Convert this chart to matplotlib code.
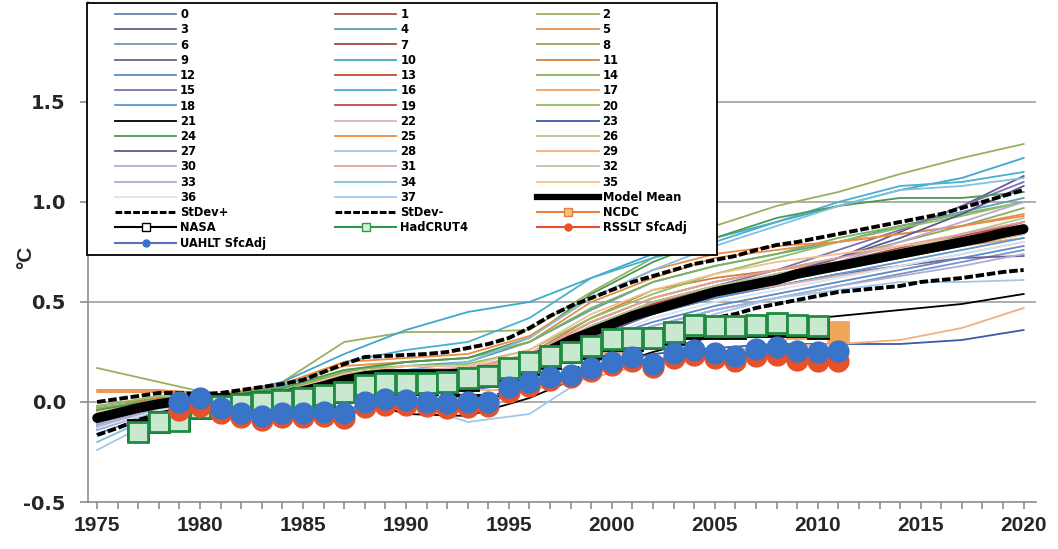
import matplotlib
matplotlib.use('Agg')
import matplotlib.pyplot as plt
from matplotlib.lines import Line2D
from matplotlib.patches import Rectangle

plt.rcParams['font.family'] = ['Liberation Sans', 'DejaVu Sans']

# ---- data ----
YEARS = list(range(1975, 2021))
MODEL_YEARS = [1975, 1978, 1981, 1984, 1987, 1990, 1993, 1996,
               1999, 2002, 2005, 2008, 2011, 2014, 2017, 2020]

MODELS = [
    [-0.10, -0.02, 0.02, 0.03, 0.10, 0.12, 0.13, 0.20, 0.36, 0.47, 0.55, 0.62, 0.70, 0.74, 0.80, 0.88],
    [-0.05, 0.00, 0.03, 0.05, 0.12, 0.16, 0.15, 0.22, 0.38, 0.50, 0.58, 0.63, 0.70, 0.77, 0.83, 0.90],
    [0.17, 0.10, 0.03, 0.10, 0.30, 0.35, 0.35, 0.36, 0.55, 0.72, 0.88, 0.98, 1.05, 1.14, 1.22, 1.29],
    [-0.12, -0.03, 0.01, 0.02, 0.08, 0.10, 0.12, 0.18, 0.34, 0.45, 0.54, 0.62, 0.72, 0.85, 0.98, 1.13],
    [-0.08, -0.01, 0.02, 0.04, 0.14, 0.18, 0.20, 0.30, 0.46, 0.60, 0.68, 0.74, 0.80, 0.88, 0.95, 1.02],
    [0.06, 0.06, 0.04, 0.08, 0.18, 0.20, 0.22, 0.30, 0.50, 0.62, 0.72, 0.76, 0.80, 0.84, 0.88, 0.94],
    [-0.14, -0.04, 0.01, 0.02, 0.06, 0.08, 0.08, 0.14, 0.28, 0.38, 0.46, 0.52, 0.58, 0.64, 0.70, 0.76],
    [-0.06, -0.01, 0.02, 0.04, 0.10, 0.14, 0.14, 0.22, 0.38, 0.48, 0.57, 0.64, 0.69, 0.74, 0.80, 0.86],
    [-0.04, 0.02, 0.03, 0.06, 0.14, 0.16, 0.17, 0.24, 0.40, 0.52, 0.60, 0.66, 0.72, 0.80, 0.88, 0.97],
    [-0.09, -0.02, 0.01, 0.02, 0.09, 0.11, 0.11, 0.17, 0.32, 0.44, 0.52, 0.58, 0.64, 0.68, 0.72, 0.73],
    [-0.10, 0.00, 0.03, 0.10, 0.24, 0.36, 0.45, 0.50, 0.62, 0.74, 0.82, 0.90, 0.98, 1.06, 1.12, 1.22],
    [-0.02, 0.02, 0.03, 0.05, 0.13, 0.15, 0.16, 0.24, 0.42, 0.56, 0.62, 0.66, 0.70, 0.75, 0.80, 0.85],
    [-0.16, -0.05, 0.00, 0.01, 0.07, 0.09, 0.09, 0.16, 0.30, 0.40, 0.48, 0.54, 0.60, 0.66, 0.72, 0.78],
    [-0.07, -0.01, 0.02, 0.03, 0.10, 0.13, 0.13, 0.21, 0.37, 0.48, 0.56, 0.63, 0.69, 0.75, 0.82, 0.90],
    [-0.03, 0.01, 0.03, 0.06, 0.15, 0.20, 0.22, 0.30, 0.47, 0.60, 0.68, 0.74, 0.82, 0.88, 0.94, 1.00],
    [-0.11, -0.03, 0.01, 0.03, 0.09, 0.12, 0.13, 0.20, 0.36, 0.48, 0.58, 0.66, 0.76, 0.86, 0.98, 1.10],
    [-0.05, 0.01, 0.04, 0.08, 0.20, 0.26, 0.30, 0.42, 0.62, 0.72, 0.80, 0.90, 1.00, 1.08, 1.10, 1.15],
    [-0.06, -0.01, 0.02, 0.04, 0.12, 0.15, 0.15, 0.23, 0.40, 0.52, 0.60, 0.66, 0.70, 0.74, 0.78, 0.82],
    [-0.13, -0.04, 0.00, 0.02, 0.08, 0.10, 0.10, 0.18, 0.34, 0.44, 0.52, 0.58, 0.64, 0.70, 0.76, 0.82],
    [-0.08, -0.02, 0.02, 0.03, 0.10, 0.13, 0.14, 0.21, 0.38, 0.49, 0.57, 0.62, 0.67, 0.72, 0.78, 0.84],
    [-0.02, 0.03, 0.04, 0.07, 0.16, 0.18, 0.19, 0.26, 0.42, 0.54, 0.64, 0.72, 0.80, 0.87, 0.93, 1.00],
    [-0.10, -0.03, 0.01, 0.00, 0.03, -0.06, -0.07, 0.02, 0.15, 0.25, 0.33, 0.40, 0.43, 0.46, 0.49, 0.54],
    [-0.09, -0.02, 0.02, 0.03, 0.12, 0.16, 0.17, 0.24, 0.38, 0.48, 0.54, 0.58, 0.63, 0.68, 0.74, 0.80],
    [-0.12, -0.04, 0.00, 0.01, 0.06, 0.08, 0.06, 0.10, 0.18, 0.24, 0.27, 0.29, 0.29, 0.29, 0.31, 0.36],
    [-0.04, 0.01, 0.03, 0.07, 0.16, 0.20, 0.22, 0.32, 0.54, 0.70, 0.82, 0.92, 0.98, 1.02, 1.02, 1.05],
    [0.05, 0.05, 0.04, 0.09, 0.20, 0.22, 0.24, 0.33, 0.52, 0.66, 0.74, 0.78, 0.80, 0.84, 0.88, 0.93],
    [-0.07, -0.01, 0.02, 0.04, 0.11, 0.14, 0.15, 0.22, 0.38, 0.50, 0.58, 0.64, 0.70, 0.76, 0.84, 0.92],
    [-0.10, -0.02, 0.01, 0.02, 0.08, 0.11, 0.12, 0.19, 0.35, 0.46, 0.55, 0.63, 0.72, 0.82, 0.94, 1.08],
    [-0.12, -0.03, 0.01, 0.03, 0.09, 0.12, 0.12, 0.20, 0.36, 0.47, 0.55, 0.62, 0.68, 0.74, 0.80, 0.87],
    [-0.08, -0.02, 0.01, 0.02, 0.06, 0.08, 0.06, 0.06, 0.12, 0.20, 0.25, 0.28, 0.29, 0.31, 0.37, 0.47],
    [-0.14, -0.04, 0.00, 0.01, 0.06, 0.07, 0.06, 0.12, 0.28, 0.38, 0.46, 0.52, 0.58, 0.63, 0.68, 0.74],
    [-0.06, -0.01, 0.02, 0.04, 0.12, 0.15, 0.16, 0.24, 0.40, 0.52, 0.60, 0.66, 0.72, 0.78, 0.84, 0.90],
    [-0.09, -0.02, 0.01, 0.03, 0.09, 0.12, 0.13, 0.20, 0.36, 0.46, 0.54, 0.60, 0.66, 0.72, 0.78, 0.84],
    [-0.11, -0.03, 0.01, 0.02, 0.08, 0.10, 0.11, 0.18, 0.34, 0.46, 0.55, 0.62, 0.70, 0.80, 0.90, 1.00],
    [-0.20, -0.06, 0.00, 0.02, 0.10, 0.16, 0.20, 0.32, 0.52, 0.66, 0.78, 0.88, 0.98, 1.06, 1.08, 1.12],
    [-0.05, 0.00, 0.02, 0.05, 0.14, 0.18, 0.18, 0.26, 0.44, 0.56, 0.64, 0.70, 0.74, 0.78, 0.82, 0.88],
    [-0.13, -0.04, 0.00, 0.01, 0.05, 0.07, 0.08, 0.14, 0.30, 0.42, 0.50, 0.56, 0.62, 0.68, 0.74, 0.80],
    [-0.24, -0.08, -0.01, 0.01, 0.04, 0.00, -0.10, -0.06, 0.14, 0.30, 0.44, 0.52, 0.56, 0.60, 0.60, 0.61],
]

MODEL_COLORS = [
    '#6a7fb0', '#b0504a', '#9ab060', '#6a5a90', '#5aa0b8', '#e0904a',
    '#8090c0', '#a04840', '#90a860', '#705c98', '#40a8c8', '#d08040',
    '#5a8ac8', '#c84838', '#80b060', '#8070b0', '#48b0d0', '#f0a060',
    '#5a98d0', '#c05040', '#90c060', '#000000', '#e0b0b0', '#3a5aa8',
    '#4a9a50', '#f08a40', '#b0c890', '#5a5a98', '#a0c8d8', '#f0b080',
    '#a8b0d8', '#e0a0a0', '#b8c8a0', '#b8a8d0', '#80c0e0', '#f0c090',
    '#dde2ea', '#a0c8e8',
]

MODEL_MEAN = [-0.08, -0.055, -0.03, -0.01, 0.005, 0.015, 0.02, 0.02, 0.025, 0.035,
              0.055, 0.08, 0.11, 0.13, 0.14, 0.14, 0.14, 0.14, 0.145, 0.15,
              0.17, 0.21, 0.26, 0.31, 0.35, 0.39, 0.43, 0.46, 0.49, 0.52,
              0.55, 0.57, 0.59, 0.61, 0.64, 0.66, 0.68, 0.70, 0.72, 0.74,
              0.76, 0.78, 0.80, 0.82, 0.845, 0.865]
STDEV_PLUS = [0.0, 0.015, 0.03, 0.045, 0.045, 0.04, 0.045, 0.06, 0.075, 0.09,
              0.11, 0.15, 0.19, 0.225, 0.23, 0.235, 0.24, 0.25, 0.27, 0.29,
              0.32, 0.37, 0.43, 0.48, 0.52, 0.56, 0.60, 0.63, 0.66, 0.69,
              0.71, 0.73, 0.76, 0.785, 0.80, 0.82, 0.84, 0.86, 0.88, 0.90,
              0.92, 0.94, 0.97, 1.00, 1.03, 1.06]
STDEV_MINUS = [-0.165, -0.13, -0.09, -0.06, -0.035, -0.02, -0.015, -0.02, -0.03, -0.02,
               0.0, 0.02, 0.04, 0.05, 0.05, 0.045, 0.04, 0.035, 0.03, 0.03,
               0.04, 0.07, 0.11, 0.15, 0.20, 0.24, 0.28, 0.31, 0.35, 0.39,
               0.42, 0.44, 0.47, 0.49, 0.51, 0.53, 0.55, 0.56, 0.57, 0.58,
               0.60, 0.61, 0.62, 0.635, 0.65, 0.66]

SURF_YEARS = list(range(1977, 2011))
HADCRUT4 = [-0.15, -0.10, -0.095, -0.03, -0.02, -0.01, 0.0, 0.01, 0.02, 0.035,
            0.05, 0.085, 0.093, 0.095, 0.095, 0.10, 0.12, 0.13, 0.17, 0.20,
            0.23, 0.25, 0.28, 0.315, 0.32, 0.32, 0.35, 0.385, 0.38, 0.38,
            0.385, 0.395, 0.385, 0.38]
NASA = [-0.14, -0.10, -0.09, -0.03, -0.02, -0.01, 0.0, 0.01, 0.02, 0.03,
        0.05, 0.08, 0.09, 0.09, 0.09, 0.10, 0.11, 0.13, 0.16, 0.19,
        0.22, 0.25, 0.27, 0.31, 0.31, 0.32, 0.34, 0.37, 0.37, 0.37,
        0.38, 0.38, 0.38, 0.37]
NCDC_YEARS = list(range(1977, 2012))
NCDC = [-0.14, -0.10, -0.09, -0.03, -0.02, -0.01, 0.0, 0.01, 0.02, 0.03,
        0.05, 0.08, 0.09, 0.09, 0.09, 0.10, 0.11, 0.13, 0.16, 0.19,
        0.22, 0.25, 0.27, 0.30, 0.31, 0.32, 0.34, 0.37, 0.37, 0.37,
        0.38, 0.38, 0.37, 0.37, 0.35]

SAT_YEARS = list(range(1979, 2012))
UAH = [0.0, 0.02, -0.03, -0.055, -0.07, -0.055, -0.055, -0.05, -0.055, 0.0,
       0.015, 0.01, 0.0, -0.005, 0.0, 0.0, 0.077, 0.10, 0.127, 0.135,
       0.17, 0.20, 0.225, 0.19, 0.245, 0.26, 0.245, 0.23, 0.265, 0.275,
       0.255, 0.25, 0.255]
RSS = [-0.04, -0.02, -0.055, -0.075, -0.09, -0.075, -0.075, -0.07, -0.08, -0.025,
       -0.015, -0.015, -0.02, -0.03, -0.025, -0.02, 0.05, 0.08, 0.11, 0.125,
       0.155, 0.185, 0.205, 0.175, 0.22, 0.235, 0.22, 0.205, 0.23, 0.235,
       0.21, 0.205, 0.205]

Y_TICKS = [-0.5, 0.0, 0.5, 1.0, 1.5]
X_TICKS = list(range(1975, 2021, 5))

# ---- figure ----
fig = plt.figure(figsize=(10.58, 5.49), dpi=100)
ax = fig.add_axes([0.0832, 0.0856, 0.896, 0.9108])

handles = []
for vals, col in zip(MODELS, MODEL_COLORS):
    h, = ax.plot(MODEL_YEARS, vals, color=col, lw=1.3, zorder=2)
    handles.append(h)

dash = dict(color='black', lw=2.8, dashes=(2.2, 0.7), zorder=3)
ax.plot(YEARS, STDEV_PLUS, **dash)
ax.plot(YEARS, STDEV_MINUS, **dash)
ax.plot(YEARS, MODEL_MEAN, color='black', lw=7, solid_capstyle='round', zorder=4)

sq = dict(marker='s', ms=14, mew=2, lw=1.5, zorder=5)
ax.plot(NCDC_YEARS, NCDC, color='#e8803a', mfc='#f0a658', mec='#f0a658', **sq)
ax.plot(SURF_YEARS, NASA, color='black', mfc='white', mec='black', **sq)
ax.plot(SURF_YEARS, HADCRUT4, color='#2a9a4a', mfc='#c8e8d0', mec='#1f8a42', **sq)
circ = dict(marker='o', ms=15, lw=1.5, zorder=6)
ax.plot(SAT_YEARS, RSS, color='#e8502a', mfc='#e8502a', mec='#e8502a', **circ)
ax.plot(SAT_YEARS, UAH, color='#3a74c8', mfc='#3a74c8', mec='#3a74c8', **circ)

# axes styling (Excel look)
ax.set_xlim(1974.56, 2020.6)
ax.set_ylim(-0.5, 2.0)
for side in ['top', 'right']:
    ax.spines[side].set_visible(False)
for side in ['left', 'bottom']:
    ax.spines[side].set_color('#8c8c8c')
    ax.spines[side].set_linewidth(1.2)
ax.set_yticks(Y_TICKS)
ax.set_yticklabels([f'{v:.1f}' for v in Y_TICKS], family='DejaVu Sans',
                   fontweight='bold', fontsize=14, color='#262626')
ax.set_xticks(X_TICKS)
ax.set_xticklabels([str(v) for v in X_TICKS], fontweight='bold',
                   fontsize=15, color='#262626')
ax.set_xticks(YEARS, minor=True)
ax.tick_params(axis='y', length=6, width=1.2, color='#8c8c8c', pad=10)
ax.tick_params(axis='x', which='both', length=5, width=1.2, color='#8c8c8c', pad=5)
for v in Y_TICKS[1:]:
    ax.axhline(v, color='#a0a0a0', lw=1.2, zorder=1)
ax.set_ylabel('°C', fontsize=15, fontweight='bold', color='#262626')
ax.yaxis.set_label_coords(-0.056, 0.49)

# legend, filled row by row like Excel
leg_labels = [str(i) for i in range(len(MODELS))] + [
    'Model Mean', 'StDev+', 'StDev-', 'NCDC', 'NASA', 'HadCRUT4',
    'RSSLT SfcAdj', 'UAHLT SfcAdj']
leg_handles = handles + [
    Line2D([], [], color='black', lw=4.5),
    Line2D([], [], color='black', lw=2.2, dashes=(2.2, 0.7)),
    Line2D([], [], color='black', lw=2.2, dashes=(2.2, 0.7)),
    Line2D([], [], color='#e8803a', lw=1.5, marker='s', ms=6, mfc='#f0c080', mec='#e8803a'),
    Line2D([], [], color='black', lw=1.5, marker='s', ms=6, mfc='white', mec='black'),
    Line2D([], [], color='#2a9a4a', lw=1.5, marker='s', ms=6, mfc='#d8f0dc', mec='#2a9a4a'),
    Line2D([], [], color='#e8502a', lw=1.5, marker='o', ms=5, mfc='#e8502a', mec='#e8502a'),
    Line2D([], [], color='#5a70c0', lw=1.5, marker='o', ms=5, mfc='#3a74c8', mec='#3a74c8'),
]
ncol = 3
order = [i for c in range(ncol) for i in range(c, len(leg_labels), ncol)]

# legend box drawn by hand so the entries can sit inset like in Excel
frame = Rectangle((0.0822, 0.5355), 0.5955, 0.459, transform=fig.transFigure,
                  facecolor='white', edgecolor='black', lw=1.3,
                  clip_on=False, zorder=9)
ax.add_patch(frame)
leg = ax.legend([leg_handles[i] for i in order], [leg_labels[i] for i in order],
                ncol=ncol, loc='upper left', mode='expand',
                bbox_to_anchor=(0.1087, 0.5, 0.5401, 0.4854),
                bbox_transform=fig.transFigure, borderaxespad=0, borderpad=0,
                prop={'family': 'DejaVu Sans', 'weight': 'bold', 'size': 8.3},
                handlelength=5.3, handletextpad=0.35, labelspacing=0.195,
                frameon=False)
leg.set_zorder(10)

fig.savefig('out.png', dpi=100, facecolor='white')
